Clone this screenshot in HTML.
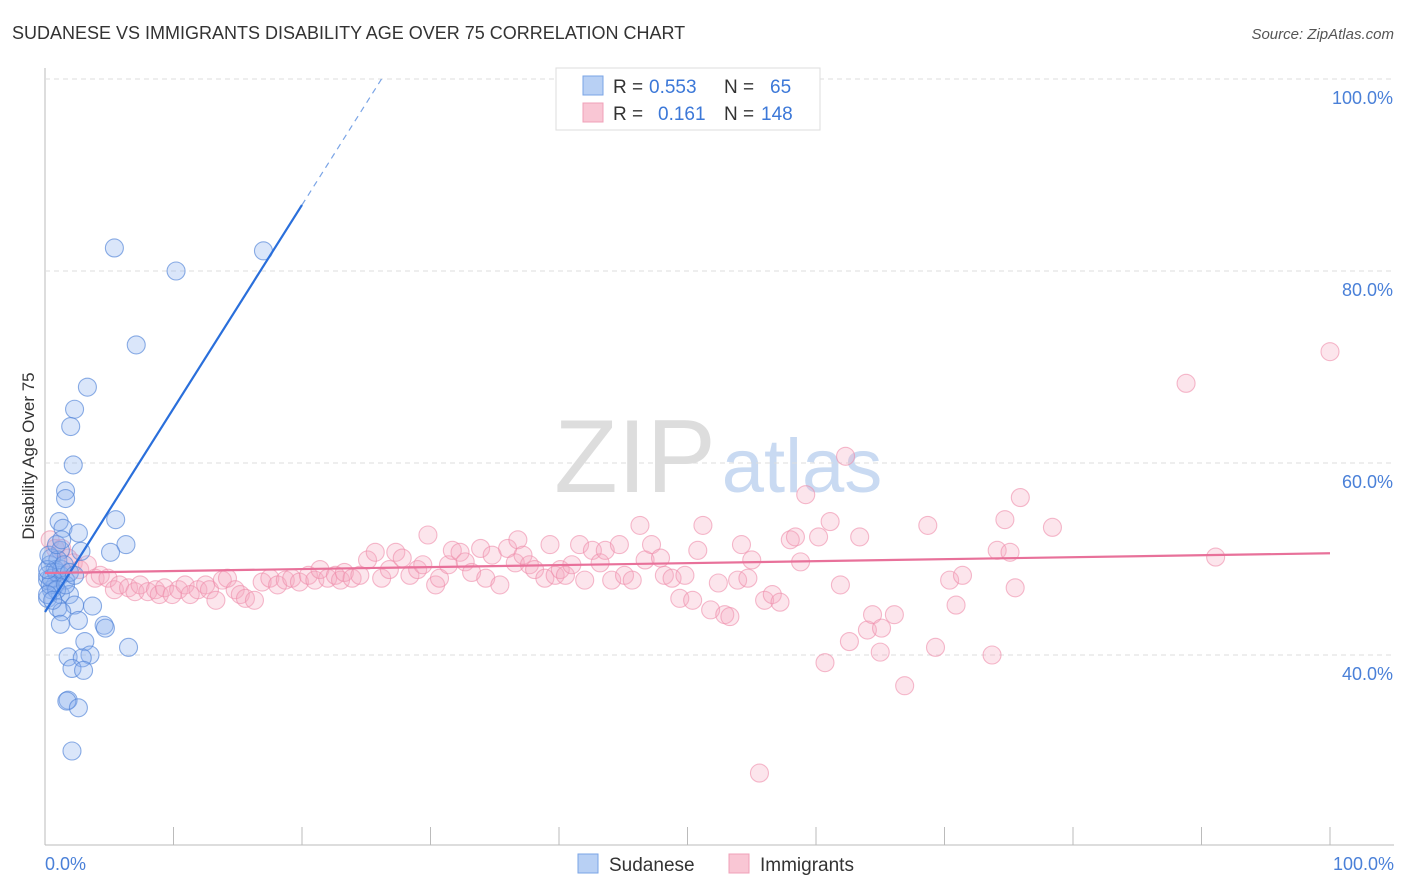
<!DOCTYPE html>
<html><head><meta charset="utf-8"><style>
body{margin:0;background:#fff;font-family:"Liberation Sans",sans-serif;}
#wrap{position:relative;width:1406px;height:892px;overflow:hidden;}
svg text{font-family:"Liberation Sans",sans-serif;}
</style></head><body>
<div id="wrap">
<svg id="chart" width="1406" height="892">
<text x="12" y="39" font-size="18" fill="#333">SUDANESE VS IMMIGRANTS DISABILITY AGE OVER 75 CORRELATION CHART</text>
<text x="1394" y="39" font-size="15" fill="#555" font-style="italic" text-anchor="end">Source: ZipAtlas.com</text>
<text x="635" y="492" font-size="104" fill="#ddd" font-family="Liberation Serif" text-anchor="middle">ZIP</text>
<text x="802" y="492" font-size="76" fill="#c9daf2" text-anchor="middle">atlas</text>
<g id="grid"></g>
<g id="pink"></g>
<g id="blue"></g>
<g id="lines"></g>
<text transform="translate(34,456) rotate(-90)" font-size="17" fill="#333" text-anchor="middle">Disability Age Over 75</text>
<text x="45" y="870" font-size="18" fill="#4a80d8">0.0%</text>
<text x="1394" y="870" font-size="18" fill="#4a80d8" text-anchor="end">100.0%</text>
<g>
<rect x="556" y="68" width="264" height="62" fill="#fff" stroke="#ddd"/>
<rect x="583" y="76" width="20" height="19" fill="#b8d0f4" stroke="#7aa4e6"/>
<rect x="583" y="103" width="20" height="19" fill="#f9c6d4" stroke="#f0a0b8"/>
<text x="613" y="93" font-size="19" fill="#333">R = </text><text x="649" y="93" font-size="19" fill="#3c78d8">0.553</text>
<text x="724" y="93" font-size="19" fill="#333">N = </text><text x="770" y="93" font-size="19" fill="#3c78d8">65</text>
<text x="613" y="120" font-size="19" fill="#333">R = </text><text x="658" y="120" font-size="19" fill="#3c78d8">0.161</text>
<text x="724" y="120" font-size="19" fill="#333">N = </text><text x="761" y="120" font-size="19" fill="#3c78d8">148</text>
</g>
<g>
<rect x="578" y="854" width="20" height="19" fill="#b8d0f4" stroke="#7aa4e6"/>
<text x="609" y="871" font-size="19" fill="#333">Sudanese</text>
<rect x="729" y="854" width="20" height="19" fill="#f9c6d4" stroke="#f0a0b8"/>
<text x="760" y="871" font-size="19" fill="#333">Immigrants</text>
</g>
</svg>
</div>
<script>
const yTicks=[40,60,80,100];
const yTickLabels=["40.0%","60.0%","80.0%","100.0%"];
const xTicks=[0,10,20,30,40,50,60,70,80,90,100];
const blueX=[5.4,10.2,17.0,7.1,3.3,2.3,2.0,2.2,1.6,1.6,1.1,1.4,2.6,5.5,6.3,5.1,2.8,1.2,0.5,0.4,0.8,1.2,0.2,0.8,1.6,0.5,1.2,0.2,1.9,2.3,3.7,1.0,1.3,2.6,1.2,4.6,4.7,3.1,6.5,1.8,3.5,2.9,2.1,3.0,1.8,1.7,2.6,2.1,0.2,0.5,0.9,1.3,0.4,0.9,1.6,0.2,0.6,1.0,1.5,1.9,0.2,0.3,0.9,1.3,2.3];
const blueY=[82.4,80.0,82.1,72.3,67.9,65.6,63.8,59.8,57.1,56.3,53.9,53.2,52.7,54.1,51.5,50.7,50.8,50.9,50.1,49.4,48.9,48.3,47.8,47.3,47.8,46.8,46.3,45.9,46.3,45.2,45.1,44.9,44.5,43.6,43.2,43.1,42.8,41.4,40.8,39.8,40.0,39.7,38.6,38.4,35.3,35.2,34.5,30.0,48.3,48.0,48.6,48.9,47.3,46.8,47.3,46.3,45.7,49.9,49.4,48.6,48.9,50.4,51.5,52.0,48.3];
const pinkX=[0.4,0.8,1.3,1.8,2.2,2.7,3.3,3.9,4.3,4.9,5.4,5.8,6.5,7.0,7.4,8.0,8.6,8.9,9.3,9.9,10.4,10.9,11.3,11.9,12.5,12.8,13.3,13.8,14.2,14.8,15.2,15.6,16.3,16.9,17.5,18.1,18.7,19.2,19.8,20.5,21.0,21.4,22.0,22.6,23.0,23.3,23.9,24.5,25.1,25.7,26.2,26.8,27.3,27.8,28.4,29.0,29.4,29.8,30.4,30.7,31.4,31.7,32.3,32.7,33.2,33.9,34.3,34.8,35.4,36.0,36.6,36.8,37.2,37.7,38.1,38.9,39.3,39.7,40.1,40.5,41.0,41.6,42.0,42.6,43.2,43.6,44.1,44.7,45.1,45.7,46.3,46.7,47.2,47.9,48.2,48.8,49.4,49.8,50.4,50.8,51.2,51.8,52.4,52.9,53.3,53.9,54.2,54.7,55.0,55.6,56.0,56.6,57.2,58.0,58.4,58.8,59.2,60.2,60.7,61.1,61.9,62.3,62.6,63.4,64.0,64.4,65.0,65.1,66.1,66.9,68.7,69.3,70.4,70.9,71.4,73.7,74.1,74.7,75.1,75.5,75.9,78.4,88.8,91.1,100.0];
const pinkY=[52.0,51.1,51.1,50.1,49.6,48.9,49.4,48.0,48.3,48.0,46.8,47.3,47.0,46.6,47.3,46.6,46.8,46.3,47.0,46.3,46.8,47.3,46.3,46.8,47.3,46.8,45.7,47.8,48.0,46.8,46.3,45.9,45.7,47.6,48.0,47.3,47.8,48.0,47.6,48.3,47.8,48.9,48.0,48.3,47.8,48.6,48.0,48.3,49.9,50.7,48.0,48.9,50.7,50.1,48.3,48.9,49.4,52.5,47.3,48.0,49.4,50.9,50.7,49.7,48.6,51.1,48.0,50.4,47.3,51.1,49.6,52.0,50.4,49.4,48.9,48.0,51.5,48.3,48.9,48.3,49.4,51.5,47.8,50.9,49.6,50.9,47.8,51.5,48.3,47.8,53.5,49.9,51.5,50.1,48.3,48.0,45.9,48.3,45.7,50.9,53.5,44.7,47.5,44.2,44.0,47.8,51.5,48.0,49.9,27.7,45.7,46.3,45.5,52.0,52.3,49.7,56.7,52.3,39.2,53.9,47.3,60.7,41.4,52.3,42.6,44.2,40.3,42.8,44.2,36.8,53.5,40.8,47.8,45.2,48.3,40.0,50.9,54.1,50.7,47.0,56.4,53.3,68.3,50.2,71.6];
const blueFit=[44.48,2.12];
const pinkFit=[48.54,50.6];

const NS="http://www.w3.org/2000/svg";
const X0=45,X1=1330,YTOP=79,PX=9.6;
function sx(v){return X0+(X1-X0)*v/100;}
function sy(v){return YTOP+(100-v)*PX;}
function mk(tag,attrs,parent){const e=document.createElementNS(NS,tag);for(const k in attrs)e.setAttribute(k,attrs[k]);parent.appendChild(e);return e;}
const grid=document.getElementById('grid');
const ax=mk('line',{x1:45,y1:68,x2:45,y2:845,stroke:'#bbb'},grid);


const bx=mk('line',{x1:45,y1:845,x2:1394,y2:845,stroke:'#bbb'},grid);


yTicks.forEach((t,i)=>{
  const g=mk('line',{x1:45,y1:sy(t),x2:1394,y2:sy(t),stroke:'#ddd','stroke-dasharray':'5,4'},grid);
  
  
  const l=mk('text',{x:1393,y:sy(t)+25,'font-size':18,fill:'#4a80d8','text-anchor':'end'},grid);
  l.textContent=yTickLabels[i];
  
  
});
xTicks.forEach(t=>{
  const l=mk('line',{x1:sx(t),y1:827,x2:sx(t),y2:845,stroke:'#bbb'},grid);
  
  
});
const pg=document.getElementById('pink');
pinkX.forEach((x,i)=>{
  const c=mk('circle',{cx:sx(x),cy:sy(pinkY[i]),r:9,fill:'rgba(246,170,193,0.3)',stroke:'rgba(238,140,170,0.6)','stroke-width':1.1},pg);
  
  
});
const bg=document.getElementById('blue');
blueX.forEach((x,i)=>{
  const c=mk('circle',{cx:sx(x),cy:sy(blueY[i]),r:9,fill:'rgba(140,178,238,0.32)',stroke:'rgba(80,130,215,0.65)','stroke-width':1.1},bg);
  
  
});
const lg=document.getElementById('lines');
const xEnd=(100-blueFit[0])/blueFit[1];
const b1=mk('line',{x1:sx(0),y1:sy(blueFit[0]),x2:sx(20),y2:sy(blueFit[0]+20*blueFit[1]),stroke:'#2a6fdb','stroke-width':2.2},lg);


const b2=mk('line',{x1:sx(20),y1:sy(blueFit[0]+20*blueFit[1]),x2:sx(xEnd),y2:sy(100),stroke:'#7aa4e6','stroke-width':1.2,'stroke-dasharray':'6,5'},lg);


const p1=mk('line',{x1:sx(0),y1:sy(pinkFit[0]),x2:sx(100),y2:sy(pinkFit[1]),stroke:'#e8719a','stroke-width':2.2},lg);


</script>
</body></html>
